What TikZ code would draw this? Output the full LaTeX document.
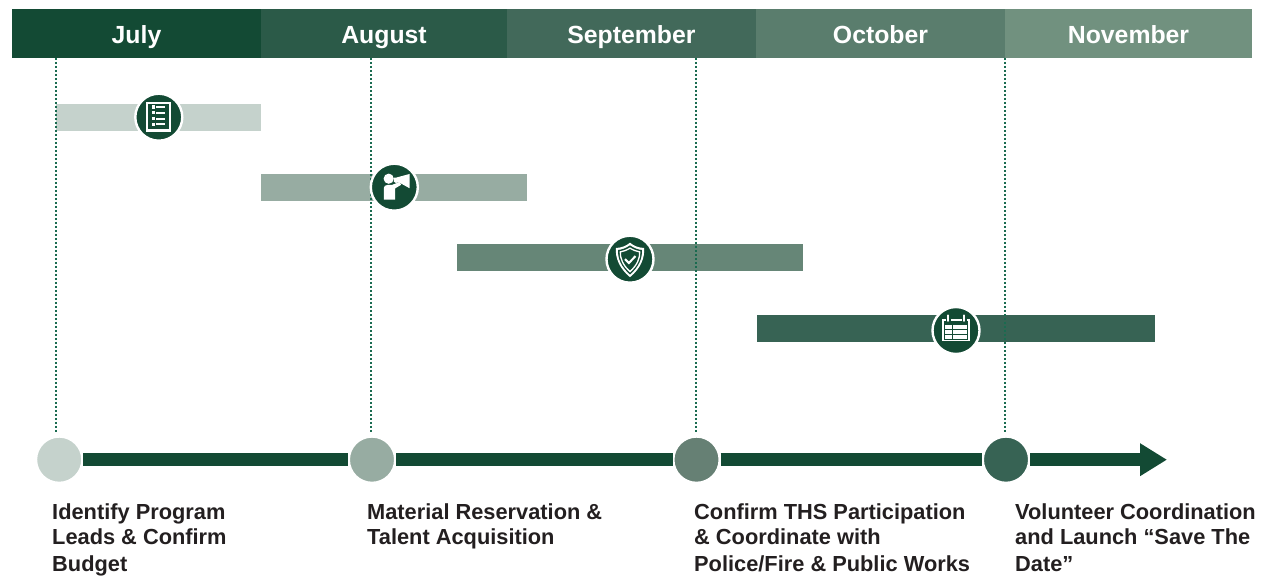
\documentclass[tikz,border=0pt]{standalone}
\usepackage{fontspec}
\setmainfont{Liberation Sans}
\usetikzlibrary{arrows.meta}
\definecolor{gA}{HTML}{134A34}
\definecolor{gB}{HTML}{2B5A48}
\definecolor{gC}{HTML}{42695A}
\definecolor{gD}{HTML}{5A7D6D}
\definecolor{gE}{HTML}{71917F}
\definecolor{barA}{HTML}{C5D2CC}
\definecolor{barB}{HTML}{97ACA2}
\definecolor{barC}{HTML}{668677}
\definecolor{barD}{HTML}{376354}
\definecolor{circC}{HTML}{668074}
\definecolor{dotc}{HTML}{1A6B50}
\definecolor{ink}{HTML}{231F20}
\tikzset{
  monthbox/.style={rectangle,inner sep=0pt,minimum height=49pt,text height=24pt,text depth=4.4pt,text=white,font=\fontsize{24.8}{28}\selectfont\bfseries},
  barbox/.style={rectangle,inner sep=0pt,minimum height=27.5pt},
  iconcirc/.style={circle,inner sep=0pt,minimum size=47pt,fill=gA,draw=white,line width=2.4pt},
  stepcirc/.style={circle,inner sep=0pt,minimum size=46pt,draw=white,line width=2pt},
  dotline/.style={dotc,line width=2.2pt,dash pattern=on 2.2pt off 1.8pt},
  axisline/.style={gA,line width=13pt},
  steplabel/.style={anchor=north west,inner sep=0pt,align=left,text=ink,font=\fontsize{21.8}{25}\selectfont\bfseries},
  iconw/.style={fill=white,draw=none}
}
\begin{document}
\begin{tikzpicture}[x=1pt,y=-1pt]
\useasboundingbox (0,0) rectangle (1267,577);
% month band
\node[monthbox,fill=gA,minimum width=249pt] (m1) at (136.5,33.5) {July};
\node[monthbox,fill=gB,minimum width=246pt] (m2) at (384,33.5) {August};
\node[monthbox,fill=gC,minimum width=249pt] (m3) at (631.5,33.5) {September};
\node[monthbox,fill=gD,minimum width=249pt] (m4) at (880.5,33.5) {October};
\node[monthbox,fill=gE,minimum width=247pt] (m5) at (1128.5,33.5) {November};
% bars
\node[barbox,fill=barA,minimum width=205pt] (b1) at (158.5,117.7) {};
\node[barbox,fill=barB,minimum width=266pt] (b2) at (394,187.7) {};
\node[barbox,fill=barC,minimum width=346pt] (b3) at (630,257.7) {};
\node[barbox,fill=barD,minimum width=398pt] (b4) at (956,328.7) {};
% axis circles
\node[stepcirc,fill=barA] (c1) at (59.2,459.7) {};
\node[stepcirc,fill=barB] (c2) at (372,459.7) {};
\node[stepcirc,fill=circC] (c3) at (696.5,459.7) {};
\node[stepcirc,fill=barD] (c4) at (1006,459.7) {};
\coordinate (arrowend) at (1167,459.7);
% dotted guides
\coordinate (t1) at (56,58); \coordinate (e1) at (56,433);
\coordinate (t2) at (371,58); \coordinate (e2) at (371,433);
\coordinate (t3) at (696,58); \coordinate (e3) at (696,433);
\coordinate (t4) at (1005,58); \coordinate (e4) at (1005,433);
\foreach \i in {1,2,3,4} \draw[dotline] (t\i) -- (e\i);
% axis
\draw[axisline] (c1) -- (c2);
\draw[axisline] (c2) -- (c3);
\draw[axisline] (c3) -- (c4);
\draw[axisline,-{Triangle[length=27pt,width=31pt,sep=0pt]}] (c4) -- (arrowend);
% icon circles
\node[iconcirc] (i1) at (158.8,117.2) {};
\node[iconcirc] (i2) at (394.3,187.2) {};
\node[iconcirc] (i3) at (630,259.2) {};
\node[iconcirc] (i4) at (956,330.5) {};
% checklist icon
\begin{scope}[shift={(i1.center)}]
  \draw[white,line width=2.1pt] (-11.8,-14.1) rectangle (11,13.3);
  \foreach \y in {-10.2,-4.5,1.5,7.1}{
    \fill[white] (-7,\y-1.7) rectangle (-3.8,\y+1.7);
    \fill[white] (-2.5,\y-0.9) rectangle (6.5,\y+0.9);
  }
\end{scope}
% person with megaphone icon
\begin{scope}[shift={(i2.center)}]
  \fill[white] (-5.6,-8.5) circle (5.1);
  \fill[iconw] (-10.5,1) .. controls (-10.5,-1) and (-9,-2.2) .. (-7,-2.2) -- (-2.5,-2.2) -- (5.2,-5.2) -- (6.8,-2.4) -- (0.8,1.2) -- (0.8,12.5) -- (-10.5,12.5) -- cycle;
  \fill[iconw] (-0.4,-9.5) -- (1.5,-9.5) -- (15.2,-13.2) -- (15.2,1) -- (5,-4.6) -- (1.5,-4.4) -- (-0.4,-5.4) -- cycle;
\end{scope}
% shield icon
\begin{scope}[shift={(i3.center)}]
  \fill[iconw] (0,-16.5) .. controls (4,-13) and (9,-11.5) .. (14,-11.2) .. controls (15,-2) and (11,9) .. (0,18) .. controls (-11,9) and (-15,-2) .. (-14,-11.2) .. controls (-9,-11.5) and (-4,-13) .. (0,-16.5) -- cycle;
  \fill[gA] (0,-13.8) .. controls (4,-11) and (8,-9.6) .. (11.9,-9.2) .. controls (12.5,-1.5) and (9,7.5) .. (0,15.3) .. controls (-9,7.5) and (-12.5,-1.5) .. (-11.9,-9.2) .. controls (-8,-9.6) and (-4,-11) .. (0,-13.8) -- cycle;
  \draw[white,line width=1.3pt] (0,-11) .. controls (3.5,-9) and (6.5,-7.8) .. (9.7,-7.3) .. controls (10.1,-1) and (7,6.2) .. (0,12.4) .. controls (-7,6.2) and (-10.1,-1) .. (-9.7,-7.3) .. controls (-6.5,-7.8) and (-3.5,-9) .. (0,-11) -- cycle;
  \draw[white,line width=2.1pt] (-5,0) -- (-1.2,3.8) -- (5.5,-3);
\end{scope}
% calendar icon
\begin{scope}[shift={(i4.center)}]
  \fill[white] (-13.7,-11.8) rectangle (14,11);
  \fill[gA] (-11.8,-9.8) rectangle (12.1,-6.6);
  \fill[gA] (-11.8,-6.6) rectangle (12.1,9.2);
  \foreach \x in {-10.8,-3.2,4.4}{
    \foreach \y in {-5.4,-0.4,4.4}{
      \fill[white] (\x,\y) rectangle (\x+6.8,\y+4);
    }
  }
  \fill[gA] (-10.3,-17) rectangle (-5.1,-7.8);
  \fill[gA] (5.7,-17) rectangle (10.9,-7.8);
  \draw[white,line width=1.8pt,line cap=round] (-7.7,-15.2) -- (-7.7,-9.6);
  \draw[white,line width=1.8pt,line cap=round] (8.3,-15.2) -- (8.3,-9.6);
\end{scope}
% labels
\node[steplabel] (l1) at (52,504) {Identify Program\\Leads \& Confirm\\[1.5pt]Budget};
\node[steplabel] (l2) at (367,504) {Material Reservation \&\\Talent Acquisition};
\node[steplabel] (l3) at (694,504) {Confirm THS Participation\\\& Coordinate with\\[1.5pt]Police/Fire \& Public Works};
\node[steplabel] (l4) at (1015,504) {Volunteer Coordination\\and Launch “Save The\\[1.5pt]Date”};
\end{tikzpicture}
\end{document}
